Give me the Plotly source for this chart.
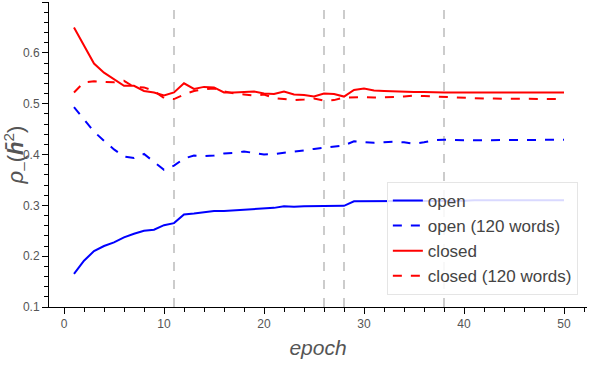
import plotly.graph_objects as go

# epochs 1..50
epochs = list(range(1, 51))

open_full = [0.165, 0.191, 0.210, 0.220, 0.227, 0.237, 0.244, 0.250, 0.252, 0.261,
             0.265, 0.282, 0.284, 0.287, 0.289, 0.289, 0.290, 0.292, 0.293, 0.294,
             0.295, 0.298, 0.297, 0.298, 0.298, 0.299, 0.299, 0.299, 0.308, 0.308,
             0.308, 0.308, 0.309, 0.309, 0.309, 0.309, 0.309, 0.309, 0.309, 0.309,
             0.310, 0.310, 0.310, 0.310, 0.310, 0.310, 0.310, 0.310, 0.310, 0.310]

open_120 = [0.493, 0.468, 0.445, 0.427, 0.410, 0.396, 0.393, 0.401, 0.385, 0.370,
            0.378, 0.392, 0.398, 0.397, 0.398, 0.402, 0.403, 0.406, 0.403, 0.400,
            0.401, 0.403, 0.405, 0.408, 0.411, 0.413, 0.416, 0.418, 0.426, 0.424,
            0.423, 0.424, 0.425, 0.424, 0.421, 0.424, 0.428, 0.429, 0.428, 0.428,
            0.428, 0.428, 0.428, 0.428, 0.428, 0.428, 0.428, 0.429, 0.429, 0.429]

closed_full = [0.650, 0.614, 0.579, 0.561, 0.548, 0.535, 0.535, 0.525, 0.522, 0.516,
               0.522, 0.540, 0.529, 0.533, 0.532, 0.522, 0.522, 0.523, 0.524, 0.520,
               0.519, 0.524, 0.518, 0.517, 0.514, 0.520, 0.519, 0.514, 0.527, 0.530,
               0.526, 0.525, 0.524, 0.524, 0.523, 0.523, 0.522, 0.522, 0.522, 0.522,
               0.522, 0.522, 0.522, 0.522, 0.522, 0.522, 0.522, 0.522, 0.522, 0.522]

closed_120 = [0.522, 0.542, 0.544, 0.543, 0.542, 0.545, 0.533, 0.532, 0.525, 0.511,
              0.509, 0.518, 0.525, 0.528, 0.530, 0.524, 0.520, 0.518, 0.516, 0.518,
              0.511, 0.509, 0.507, 0.508, 0.510, 0.506, 0.507, 0.512, 0.513, 0.513,
              0.512, 0.512, 0.513, 0.514, 0.516, 0.515, 0.514, 0.513, 0.512, 0.511,
              0.510, 0.510, 0.510, 0.510, 0.510, 0.510, 0.510, 0.510, 0.509, 0.509]

# epochs marked with vertical dashed lines
marked_epochs = [11, 26, 28, 38]

series = [
    ('open', open_full, 'blue', 'solid'),
    ('open (120 words)', open_120, 'blue', 'dash'),
    ('closed', closed_full, 'red', 'solid'),
    ('closed (120 words)', closed_120, 'red', 'dash'),
]

fig = go.Figure()
for name, values, color, dash in series:
    fig.add_trace(go.Scatter(
        x=epochs, y=values, name=name, mode='lines',
        line=dict(color=color, width=2, dash=dash)
    ))

for e in marked_epochs:
    fig.add_vline(x=e, line=dict(color='#cccccc', width=2, dash='dash'), layer='below')

axis_common = dict(
    showgrid=False, zeroline=False, automargin=False,
    showline=True, linecolor='black', linewidth=1,
    ticks='outside', ticklen=6, tickcolor='black',
    tickfont=dict(family='Liberation Sans', size=12, color='#555555'),
    mirror=False,
)

fig.update_layout(
    width=590, height=390,
    margin=dict(l=49, r=3, t=2, b=83),
    plot_bgcolor='white', paper_bgcolor='white',
    font=dict(family='Liberation Sans', color='#444444'),
    xaxis=dict(
        range=[-1.5, 52.3], dtick=10,
        minor=dict(dtick=2, ticks='outside', ticklen=4, tickcolor='black'),
        title=dict(text='<i>epoch</i>', font=dict(size=21, color='#555555'), standoff=9),
        **axis_common
    ),
    yaxis=dict(
        range=[0.1, 0.7], dtick=0.1, tickformat='.1f',
        minor=dict(dtick=0.02, ticks='outside', ticklen=4, tickcolor='black'),
        title=dict(text='<i>ρ</i><sub>–</sub>(<b><i>h̄</i></b><sup>2</sup>)',
                   font=dict(size=22, color='#555555'), standoff=4),
        **axis_common
    ),
    legend=dict(
        x=0.983, xanchor='right', y=0.41, yanchor='top',
        bgcolor='rgba(255,255,255,0.85)', bordercolor='#e5e5e5', borderwidth=1,
        font=dict(size=17, color='#444444'),
        tracegroupgap=0, itemwidth=30,
    ),
)

# page body has a default 8px margin; drop it so the figure fills the window
fig.write_html("out.html", config={'displayModeBar': False},
               post_script="document.body.style.margin='0';")
